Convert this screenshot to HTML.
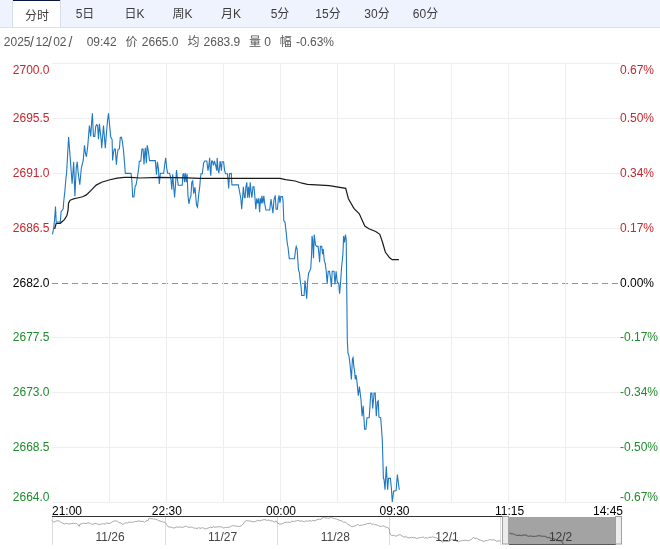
<!DOCTYPE html>
<html><head><meta charset="utf-8"><title>分时</title>
<style>
html,body{margin:0;padding:0;background:#fff;}
body{width:660px;height:549px;position:relative;overflow:hidden;font-family:"Liberation Sans","Noto Sans CJK SC",sans-serif;}
.bar{position:absolute;left:0;top:0;width:660px;height:27px;background:#eef3fe;border-bottom:1px solid #dbe0e9;}
.sel{position:absolute;left:12px;top:0;width:47px;height:27px;background:#fff;border-left:1px solid #d9e0ec;border-right:1px solid #d9e0ec;}
.sel:before{content:"";position:absolute;left:0;top:0;right:0;height:1px;background:#0a1640;}
.tab{position:absolute;top:5px;width:60px;text-align:center;font-size:12px;line-height:17px;color:#3c3c3c;}
.sl{font-size:14px!important;margin-top:0px;}
.inf{position:absolute;top:34px;font-size:12px;line-height:17px;color:#575757;white-space:pre;}
svg text{font-family:"Liberation Sans","Noto Sans CJK SC",sans-serif;}
</style></head><body>
<div class="bar"><div class="sel"></div><span class="tab" style="left:7.0px;top:8px">分时</span><span class="tab" style="left:55.0px;top:6px">5日</span><span class="tab" style="left:104.5px;top:6px">日K</span><span class="tab" style="left:152.5px;top:6px">周K</span><span class="tab" style="left:201.0px;top:6px">月K</span><span class="tab" style="left:250.0px;top:6px">5分</span><span class="tab" style="left:298.0px;top:6px">15分</span><span class="tab" style="left:347.0px;top:6px">30分</span><span class="tab" style="left:395.5px;top:6px">60分</span></div>
<span class="inf" style="left:3.8px">2025</span><span class="inf sl" style="left:30.0px">/</span><span class="inf" style="left:35.4px">12</span><span class="inf sl" style="left:48.0px">/</span><span class="inf" style="left:53.2px">02</span><span class="inf sl" style="left:68.4px">/</span><span class="inf" style="left:86.7px">09:42</span><span class="inf" style="left:125.5px">价</span><span class="inf" style="left:141.8px">2665.0</span><span class="inf" style="left:187.5px">均</span><span class="inf" style="left:203.6px">2683.9</span><span class="inf" style="left:249.0px">量</span><span class="inf" style="left:264.2px">0</span><span class="inf" style="left:279.7px">幅</span><span class="inf" style="left:296.0px">-0.63%</span>
<svg width="660" height="549" viewBox="0 0 660 549" style="position:absolute;left:0;top:0">
<line x1="52" y1="63.5" x2="620" y2="63.5" stroke="#eeeeee" stroke-width="1"/>
<line x1="52" y1="118.5" x2="620" y2="118.5" stroke="#eeeeee" stroke-width="1"/>
<line x1="52" y1="173.5" x2="620" y2="173.5" stroke="#eeeeee" stroke-width="1"/>
<line x1="52" y1="228.5" x2="620" y2="228.5" stroke="#eeeeee" stroke-width="1"/>
<line x1="52" y1="283.5" x2="620" y2="283.5" stroke="#959595" stroke-width="1" stroke-dasharray="6 4"/>
<line x1="52" y1="337.5" x2="620" y2="337.5" stroke="#eeeeee" stroke-width="1"/>
<line x1="52" y1="392.5" x2="620" y2="392.5" stroke="#eeeeee" stroke-width="1"/>
<line x1="52" y1="447.5" x2="620" y2="447.5" stroke="#eeeeee" stroke-width="1"/>
<line x1="52" y1="502.5" x2="620" y2="502.5" stroke="#eeeeee" stroke-width="1"/>
<line x1="109.5" y1="63" x2="109.5" y2="502" stroke="#eeeeee" stroke-width="1"/>
<line x1="166.5" y1="63" x2="166.5" y2="502" stroke="#eeeeee" stroke-width="1"/>
<line x1="223.5" y1="63" x2="223.5" y2="502" stroke="#eeeeee" stroke-width="1"/>
<line x1="280.5" y1="63" x2="280.5" y2="502" stroke="#eeeeee" stroke-width="1"/>
<line x1="337.5" y1="63" x2="337.5" y2="502" stroke="#eeeeee" stroke-width="1"/>
<line x1="394.5" y1="63" x2="394.5" y2="502" stroke="#eeeeee" stroke-width="1"/>
<line x1="451.5" y1="63" x2="451.5" y2="502" stroke="#eeeeee" stroke-width="1"/>
<line x1="508.5" y1="63" x2="508.5" y2="502" stroke="#eeeeee" stroke-width="1"/>
<line x1="565.5" y1="63" x2="565.5" y2="502" stroke="#eeeeee" stroke-width="1"/>
<polyline fill="none" stroke="#1e78c3" stroke-width="1.1" stroke-linejoin="miter" points="52.5,234.3 53.7,227.8 54.6,219.6 55.5,206.5 56.2,222.0 60.3,222.0 61.1,211.4 62.3,210.2 63.2,208.9 63.6,203.2 64.4,195.0 64.8,191.7 66.0,177.7 66.6,173.4 68.6,137.0 70.5,161.9 72.1,183.6 73.7,161.9 74.9,196.3 76.2,168.3 77.2,161.9 78.1,172.1 79.8,184.8 81.3,168.3 83.2,160.6 84.5,145.3 85.4,153.0 86.4,156.8 87.7,146.6 89.4,125.5 90.7,136.4 91.6,122.8 92.4,113.2 93.0,127.3 93.5,136.4 94.8,136.4 95.7,126.4 96.7,124.6 97.6,125.5 98.5,139.2 99.4,123.7 100.3,131.9 101.2,140.1 101.7,148.3 103.5,125.5 105.3,148.3 106.7,130.0 107.6,120.0 108.5,113.2 109.4,123.0 110.7,136.8 112.1,139.6 112.6,160.5 113.5,152.3 114.4,149.1 115.3,149.1 116.4,164.6 117.1,156.0 118.0,149.6 119.4,148.7 120.3,137.3 121.5,137.3 122.6,143.2 123.5,150.5 124.4,161.4 125.3,173.4 131.0,173.4 131.9,181.0 132.7,197.0 133.9,197.0 135.2,186.1 136.1,184.8 137.4,177.2 138.7,168.3 139.3,161.3 140.8,161.3 141.9,149.1 143.1,149.1 144.0,164.4 144.7,153.0 145.4,147.9 146.3,163.2 147.2,145.3 148.2,150.4 148.9,155.5 149.5,160.6 155.3,160.6 156.5,174.6 157.4,161.9 158.4,168.3 159.3,184.0 160.4,173.3 163.7,173.2 164.6,165.5 165.7,157.9 166.7,168.1 167.6,173.2 169.5,173.2 170.8,178.3 171.8,189.7 172.7,174.4 173.6,185.9 174.6,197.4 175.6,183.4 176.5,170.0 177.4,178.3 178.2,185.3 182.2,185.3 182.9,174.4 183.8,173.8 184.5,182.1 185.4,173.2 186.3,182.1 187.1,173.8 188.0,196.1 188.9,203.8 189.9,198.7 190.9,196.1 191.8,182.1 192.7,180.8 193.7,193.6 195.0,187.2 196.5,205.0 197.5,207.0 198.8,193.6 199.7,187.2 200.4,178.3 201.0,173.8 202.3,173.8 203.6,163.0 204.8,161.0 206.8,161.0 208.0,170.6 209.1,163.6 209.6,157.9 210.3,170.6 210.8,175.7 211.6,161.0 212.5,161.0 213.4,165.5 214.4,161.0 215.7,165.5 216.7,170.6 217.2,157.9 218.0,169.3 218.9,173.2 220.1,161.0 221.4,170.6 222.1,161.7 223.6,161.7 224.6,170.6 225.6,173.8 227.4,173.8 228.2,182.1 228.7,188.5 229.5,173.8 231.3,173.4 231.9,184.9 238.3,184.9 239.6,191.9 240.8,198.3 241.7,209.1 242.5,198.3 243.4,186.8 244.3,197.6 245.1,197.6 245.9,186.8 246.8,182.3 247.6,197.6 248.5,186.8 249.4,197.6 250.2,182.3 251.0,190.6 251.9,197.6 253.0,186.8 254.0,186.8 254.9,197.0 255.8,209.1 256.8,198.3 257.8,203.4 258.7,198.3 259.6,212.3 260.4,198.3 261.3,203.4 261.9,195.7 262.9,203.4 263.8,195.7 264.7,203.4 265.9,210.0 269.7,210.0 271.0,199.1 272.9,213.2 273.9,200.4 275.2,195.3 276.1,209.3 277.4,209.3 278.3,199.1 279.1,195.3 279.9,203.0 280.8,196.6 282.5,196.6 283.1,201.7 283.8,220.8 285.0,222.1 286.3,233.6 287.3,243.7 288.0,247.0 289.3,258.8 294.5,258.8 295.4,251.0 296.2,246.4 297.1,249.0 297.8,259.5 298.5,270.0 299.4,272.6 300.2,280.5 301.1,287.0 301.7,295.5 304.1,295.5 305.0,280.5 305.9,289.6 306.7,298.8 307.6,281.8 308.6,273.2 309.6,271.3 310.7,268.7 311.6,254.2 312.0,235.9 312.6,239.8 313.5,258.2 314.2,234.6 315.5,245.0 316.8,246.4 318.1,246.4 319.0,254.2 319.6,262.1 320.4,246.4 321.7,246.4 322.6,254.2 323.2,249.0 324.3,260.8 325.2,263.4 326.1,270.0 327.2,283.1 328.2,271.3 329.5,271.3 330.5,277.8 331.4,287.0 332.2,271.3 334.0,271.3 335.0,284.4 336.1,271.3 337.0,280.5 337.7,283.1 338.7,283.1 339.6,293.6 340.3,285.7 341.6,267.3 342.9,254.2 343.6,235.9 344.5,242.4 345.5,234.6 346.2,239.8 347.3,340.0 348.0,353.1 349.0,356.0 350.2,366.2 351.4,379.4 352.4,359.0 353.1,357.5 353.8,366.2 354.6,371.3 355.3,379.4 356.0,375.0 356.8,380.1 358.3,395.8 359.4,386.6 361.0,399.7 362.1,416.1 363.2,405.7 364.6,429.2 365.9,429.2 367.0,417.7 369.2,417.7 370.8,393.1 371.9,393.1 372.7,408.4 374.1,393.1 375.2,393.1 376.3,416.1 377.4,401.9 378.2,400.8 379.0,417.2 380.7,417.7 382.3,440.0 383.4,478.4 384.0,479.0 385.0,489.8 386.3,466.3 387.6,489.8 388.5,478.4 390.4,478.4 391.4,488.6 392.3,502.0 393.6,491.1 396.1,490.5 397.4,474.5 398.3,482.2 399.3,489.8"/>
<polyline fill="none" stroke="#1a1a1a" stroke-width="1.2" points="54.6,229.0 56.2,223.3 60.3,223.3 64.4,219.6 66.9,215.5 68.1,209.8 68.5,203.2 70.1,200.3 72.0,199.5 74.3,198.7 77.5,198.0 82.6,196.8 86.4,194.9 91.5,189.8 96.2,185.1 101.7,182.3 109.0,180.0 117.1,178.2 124.4,177.3 130.8,177.3 140.0,178.0 159.3,177.3 186.6,177.9 200.3,178.4 230.3,178.4 280.0,178.3 285.6,179.6 295.1,181.0 302.0,183.2 307.4,184.3 329.3,185.6 345.7,188.4 348.4,198.7 353.9,208.3 359.3,213.8 364.8,226.0 368.9,228.8 375.7,231.5 379.8,234.3 382.6,242.5 385.3,252.0 389.4,257.5 392.1,259.7 398.9,259.7"/>
<text x="49.5" y="73.7" fill="#c8262c" text-anchor="end" font-size="12">2700.0</text>
<text x="620" y="73.7" fill="#c8262c" font-size="12">0.67%</text>
<text x="49.5" y="122.3" fill="#c8262c" text-anchor="end" font-size="12">2695.5</text>
<text x="620" y="122.3" fill="#c8262c" font-size="12">0.50%</text>
<text x="49.5" y="177.3" fill="#c8262c" text-anchor="end" font-size="12">2691.0</text>
<text x="620" y="177.3" fill="#c8262c" font-size="12">0.34%</text>
<text x="49.5" y="232.3" fill="#c8262c" text-anchor="end" font-size="12">2686.5</text>
<text x="620" y="232.3" fill="#c8262c" font-size="12">0.17%</text>
<text x="49.5" y="287.3" fill="#000" text-anchor="end" font-size="12">2682.0</text>
<text x="620" y="287.3" fill="#000" font-size="12">0.00%</text>
<text x="49.5" y="341.3" fill="#1e8c2a" text-anchor="end" font-size="12">2677.5</text>
<text x="620" y="341.3" fill="#1e8c2a" font-size="12">-0.17%</text>
<text x="49.5" y="396.3" fill="#1e8c2a" text-anchor="end" font-size="12">2673.0</text>
<text x="620" y="396.3" fill="#1e8c2a" font-size="12">-0.34%</text>
<text x="49.5" y="451.3" fill="#1e8c2a" text-anchor="end" font-size="12">2668.5</text>
<text x="620" y="451.3" fill="#1e8c2a" font-size="12">-0.50%</text>
<text x="49.5" y="501.1" fill="#1e8c2a" text-anchor="end" font-size="12">2664.0</text>
<text x="620" y="501.1" fill="#1e8c2a" font-size="12">-0.67%</text>
<text x="52" y="515" fill="#000" text-anchor="start" font-size="12">21:00</text>
<text x="166.8" y="515" fill="#000" text-anchor="middle" font-size="12">22:30</text>
<text x="281" y="515" fill="#000" text-anchor="middle" font-size="12">00:00</text>
<text x="394.5" y="515" fill="#000" text-anchor="middle" font-size="12">09:30</text>
<text x="509.5" y="515" fill="#000" text-anchor="middle" font-size="12">11:15</text>
<text x="623" y="515" fill="#000" text-anchor="end" font-size="12">14:45</text>
<line x1="52" y1="516.5" x2="503" y2="516.5" stroke="#333" stroke-width="1.2"/>
<line x1="52.5" y1="517" x2="52.5" y2="545" stroke="#dcdcdc" stroke-width="1"/>
<line x1="165.5" y1="517" x2="165.5" y2="545" stroke="#dcdcdc" stroke-width="1"/>
<line x1="277.5" y1="517" x2="277.5" y2="545" stroke="#dcdcdc" stroke-width="1"/>
<line x1="389.5" y1="517" x2="389.5" y2="545" stroke="#dcdcdc" stroke-width="1"/>
<line x1="500.5" y1="517" x2="500.5" y2="545" stroke="#dcdcdc" stroke-width="1"/>
<polyline fill="none" stroke="#a8a8a8" stroke-width="1" points="51.8,520.4 53.6,522.2 55.5,521.3 56.8,520.8 58.2,520.9 59.5,521.0 60.9,522.2 62.7,523.3 64.5,524.0 66.4,523.3 68.2,524.0 70.0,523.8 71.8,523.5 73.6,523.2 75.5,523.5 76.8,523.5 78.2,524.9 79.1,526.4 80.0,524.0 81.6,523.9 83.2,523.0 84.8,523.5 86.4,523.5 87.8,522.9 89.3,523.0 90.7,523.7 92.2,524.4 93.6,524.0 95.1,523.4 96.5,523.6 98.0,524.2 99.5,524.7 100.9,524.0 102.4,524.0 103.8,523.6 105.3,524.4 106.7,522.8 108.2,523.5 110.0,523.4 111.8,522.2 113.6,521.2 115.5,520.9 117.3,521.2 119.1,522.7 120.9,523.0 122.7,524.5 124.5,523.3 126.4,522.7 127.7,523.1 129.1,521.9 130.5,522.4 131.8,522.2 133.2,522.2 134.5,521.5 135.9,521.6 137.3,521.3 139.1,520.8 140.9,521.6 142.7,521.2 144.5,522.2 146.4,520.8 148.2,520.4 149.1,518.0 150.6,518.7 152.1,518.6 153.6,519.1 155.5,519.2 157.3,519.8 159.1,520.7 160.9,521.3 162.3,521.7 163.6,522.2 165.0,522.2 166.8,524.9 168.6,527.1 170.5,527.0 172.3,527.6 173.7,528.0 175.2,527.7 176.6,526.9 178.1,527.3 179.5,527.1 181.0,527.0 182.5,527.4 183.9,527.0 185.4,526.2 186.8,526.4 188.6,527.5 190.5,527.1 192.3,527.0 194.1,528.2 195.5,528.1 197.0,528.6 198.5,527.6 199.9,528.2 201.4,528.2 202.7,527.5 204.1,528.6 205.5,528.9 206.8,528.5 208.6,527.9 210.5,527.1 212.0,527.6 213.5,526.7 215.0,527.2 216.5,527.0 218.0,526.9 219.5,526.7 221.0,526.8 222.5,527.6 223.9,528.0 225.4,527.4 226.8,527.6 228.6,527.4 230.5,526.7 232.3,525.6 234.1,525.8 235.5,526.1 237.0,526.1 238.5,526.6 239.9,526.3 241.4,525.8 243.2,524.0 245.0,521.3 246.8,520.7 248.6,520.9 250.5,521.1 252.3,521.6 254.1,521.7 255.9,521.3 257.7,520.3 259.5,520.9 261.4,520.3 263.2,519.8 265.0,519.6 266.8,520.4 268.6,520.0 270.5,520.9 272.3,520.8 274.1,522.2 276.3,520.9 277.7,523.1 279.5,524.0 281.4,524.0 283.6,523.1 285.0,522.3 286.4,522.2 287.7,522.2 289.1,522.2 290.5,522.5 291.8,521.1 293.2,521.4 294.5,521.3 296.4,520.9 298.2,520.4 300.0,521.2 301.8,520.9 303.2,521.5 304.5,521.7 305.9,520.8 307.3,521.3 308.6,520.9 310.0,520.6 311.4,521.2 312.7,520.4 314.5,520.9 316.4,520.0 317.9,519.3 319.4,519.1 320.9,519.5 321.8,518.0 323.2,517.6 324.5,517.6 325.9,518.0 327.3,518.0 328.7,518.3 330.2,517.8 331.6,517.5 333.1,518.3 334.5,518.5 336.4,519.0 338.2,519.8 340.0,520.5 341.8,520.9 343.6,522.3 345.5,522.2 347.3,523.9 349.1,524.9 350.5,525.8 351.8,526.7 353.3,526.4 354.8,526.0 356.4,525.3 357.8,524.4 359.3,525.6 360.7,525.3 362.2,525.3 363.6,524.5 365.0,524.7 366.4,523.8 367.7,523.6 369.1,523.5 370.5,523.2 371.8,524.4 373.2,523.8 374.5,524.9 375.9,524.6 377.3,525.2 378.6,525.5 380.0,526.4 381.4,526.3 382.7,526.0 384.1,526.1 385.5,527.1 387.3,527.3 389.1,528.5 390.0,534.0 391.8,535.8 393.3,535.3 394.8,535.8 396.4,536.2 398.6,534.9 400.5,534.8 402.3,536.2 404.1,537.1 405.9,536.7 407.7,537.5 409.5,538.0 411.4,537.3 413.2,537.6 415.0,537.7 416.8,538.5 418.6,537.8 420.5,537.6 421.8,537.4 423.2,537.0 424.5,538.2 425.9,537.6 427.3,538.3 428.6,537.4 430.0,537.3 431.4,537.3 433.2,536.8 435.0,537.6 436.8,537.9 438.6,539.5 440.5,540.6 442.3,542.2 444.1,541.4 445.9,541.3 447.7,541.6 449.5,540.9 451.4,539.6 453.2,539.5 455.0,539.6 456.8,541.3 458.6,541.8 460.5,540.9 462.3,540.7 464.1,540.4 465.9,540.1 467.7,540.9 469.5,540.3 471.4,539.5 473.2,537.3 475.0,538.5 476.8,538.2 478.6,539.5 480.5,540.2 482.3,540.9 484.1,541.4 485.9,540.4 487.7,540.5 489.5,539.5 491.4,540.0 493.2,539.8 495.0,540.2 496.8,541.3 498.6,540.9 500.5,540.9"/>
<rect x="509" y="517" width="107" height="27" fill="#a3a3a3"/>
<line x1="509" y1="544.5" x2="616" y2="544.5" stroke="#5a5a5a" stroke-width="1"/>
<polyline fill="none" stroke="#666" stroke-width="1.2" points="509.5,532.9 511.4,533.9 513.3,533.8 515.2,534.8 517.0,535.5 518.9,535.2 520.4,535.3 521.8,535.7 523.2,534.9 524.6,535.2 526.0,534.9 527.5,536.0 528.9,536.4 530.3,535.8 531.8,536.3 533.3,536.3 534.8,536.3 536.4,536.2 537.9,535.8 539.3,535.5 540.7,536.1 542.1,536.0 543.6,536.3 545.5,536.3 547.3,537.7 549.2,537.4 551.1,538.6 552.6,538.5 554.0,538.7 555.4,539.6 556.8,539.6 558.7,540.8 560.6,540.5 562.5,542.4 563.4,544.3"/>
<rect x="502.5" y="516.5" width="6" height="27.5" fill="#ececec" stroke="#a0a0a0" stroke-width="1"/>
<rect x="615.5" y="516.5" width="6" height="27.5" fill="#ececec" stroke="#a0a0a0" stroke-width="1"/>
<text x="110" y="540.5" fill="#444" text-anchor="middle" font-size="12">11/26</text>
<text x="222.5" y="540.5" fill="#444" text-anchor="middle" font-size="12">11/27</text>
<text x="335.3" y="540.5" fill="#444" text-anchor="middle" font-size="12">11/28</text>
<text x="447" y="540.5" fill="#444" text-anchor="middle" font-size="12">12/1</text>
<text x="560.6" y="540.5" fill="#3a3a3a" text-anchor="middle" font-size="12">12/2</text>
</svg>
</body></html>
